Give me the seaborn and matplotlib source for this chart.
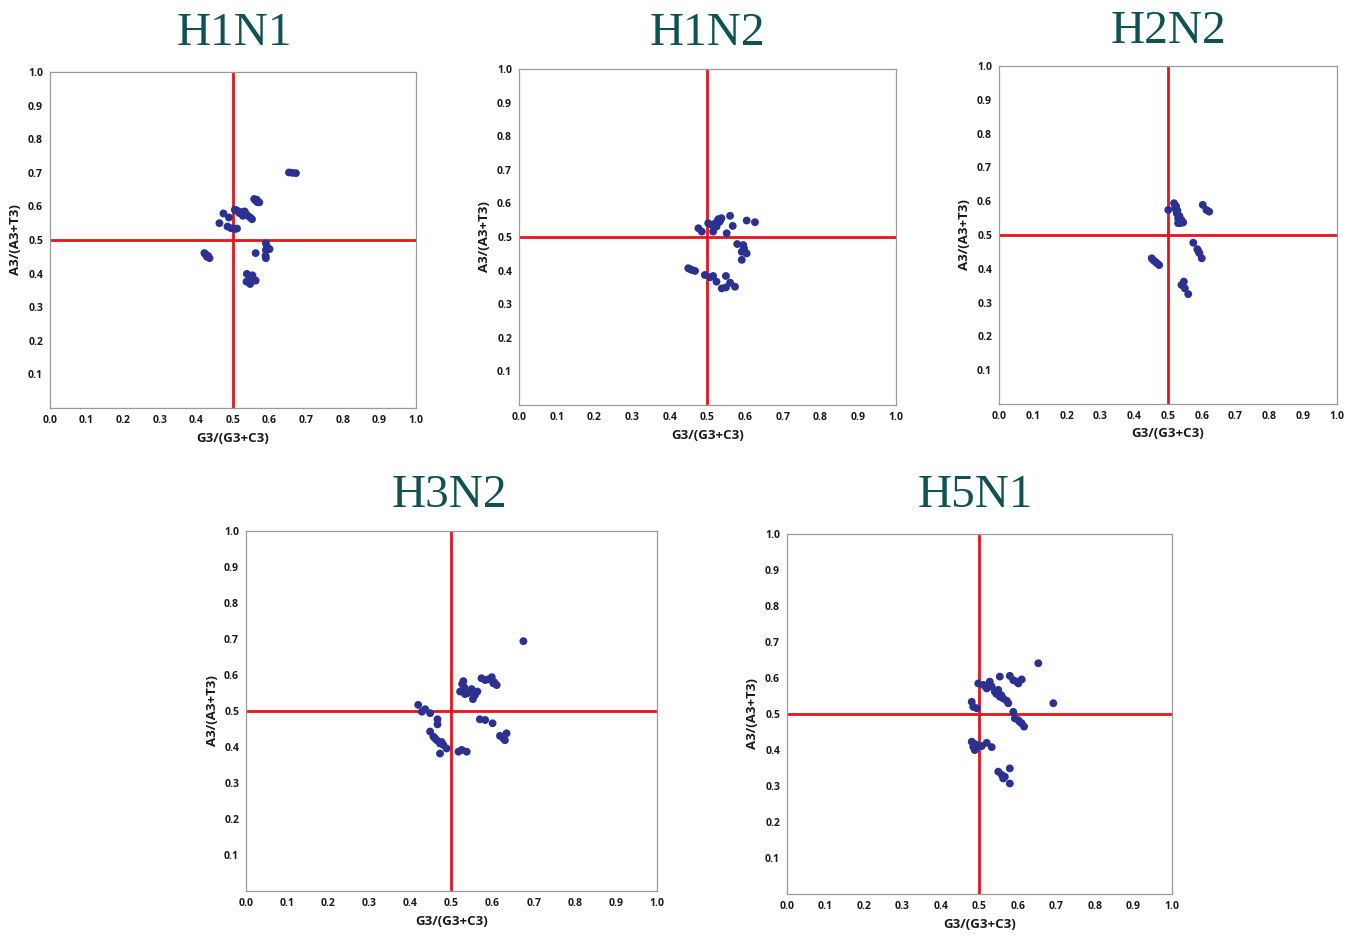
import numpy as np
import matplotlib
matplotlib.use("Agg")
import matplotlib.pyplot as plt
import seaborn as sns
import pandas as pd

# values
h1n1_x = [0.653, 0.662, 0.672, 0.558, 0.562, 0.566, 0.572, 0.565, 0.474, 0.489, 0.463, 0.485,
          0.505, 0.511, 0.495, 0.505, 0.514, 0.523, 0.532, 0.536, 0.541, 0.547, 0.552, 0.527,
          0.590, 0.593, 0.590, 0.600, 0.562, 0.589, 0.590, 0.422, 0.432, 0.436, 0.538, 0.546,
          0.537, 0.547, 0.559, 0.562, 0.510, 0.518, 0.528, 0.425, 0.429, 0.548, 0.553]
h1n1_y = [0.701, 0.700, 0.699, 0.622, 0.618, 0.613, 0.612, 0.620, 0.579, 0.567, 0.550, 0.540,
          0.533, 0.534, 0.535, 0.590, 0.585, 0.583, 0.585, 0.577, 0.572, 0.567, 0.562, 0.572,
          0.490, 0.480, 0.470, 0.473, 0.461, 0.453, 0.446, 0.461, 0.453, 0.446, 0.399, 0.391,
          0.376, 0.369, 0.381, 0.379, 0.588, 0.580, 0.578, 0.458, 0.450, 0.385, 0.395]

h1n2_x = [0.476, 0.485, 0.502, 0.511, 0.529, 0.537, 0.524, 0.515, 0.551, 0.560, 0.567, 0.604,
          0.626, 0.579, 0.595, 0.591, 0.604, 0.591, 0.449, 0.458, 0.467, 0.493, 0.507, 0.515,
          0.524, 0.549, 0.560, 0.573, 0.538, 0.549, 0.532, 0.520, 0.527, 0.534, 0.597, 0.453]
h1n2_y = [0.526, 0.516, 0.541, 0.536, 0.553, 0.556, 0.531, 0.516, 0.511, 0.563, 0.533, 0.549,
          0.544, 0.479, 0.476, 0.456, 0.451, 0.432, 0.407, 0.402, 0.399, 0.387, 0.380, 0.384,
          0.367, 0.384, 0.364, 0.352, 0.347, 0.350, 0.545, 0.540, 0.548, 0.550, 0.466, 0.405]

h2n2_x = [0.501, 0.518, 0.521, 0.526, 0.530, 0.536, 0.540, 0.530, 0.545, 0.524, 0.603, 0.614,
          0.622, 0.575, 0.587, 0.593, 0.600, 0.452, 0.462, 0.474, 0.540, 0.547, 0.550, 0.560,
          0.528, 0.534, 0.538, 0.456, 0.468, 0.590]
h2n2_y = [0.574, 0.594, 0.579, 0.564, 0.549, 0.535, 0.544, 0.535, 0.537, 0.585, 0.589, 0.574,
          0.569, 0.477, 0.458, 0.446, 0.431, 0.431, 0.421, 0.411, 0.352, 0.362, 0.342, 0.325,
          0.572, 0.556, 0.541, 0.426, 0.416, 0.452]

h3n2_x = [0.675, 0.529, 0.521, 0.533, 0.549, 0.557, 0.552, 0.563, 0.526, 0.573, 0.582, 0.590,
          0.598, 0.602, 0.610, 0.419, 0.428, 0.436, 0.448, 0.466, 0.466, 0.569, 0.582, 0.600,
          0.618, 0.626, 0.634, 0.630, 0.448, 0.456, 0.464, 0.472, 0.480, 0.488, 0.472, 0.517,
          0.525, 0.537, 0.531, 0.540, 0.460, 0.476, 0.604]
h3n2_y = [0.694, 0.583, 0.554, 0.547, 0.561, 0.544, 0.533, 0.554, 0.575, 0.591, 0.586, 0.588,
          0.594, 0.577, 0.572, 0.517, 0.498, 0.505, 0.494, 0.477, 0.463, 0.477, 0.475, 0.466,
          0.431, 0.424, 0.438, 0.419, 0.443, 0.429, 0.419, 0.410, 0.406, 0.396, 0.382, 0.387,
          0.392, 0.387, 0.566, 0.550, 0.424, 0.414, 0.580]

h5n1_x = [0.653, 0.692, 0.553, 0.579, 0.588, 0.597, 0.610, 0.601, 0.497, 0.510, 0.519, 0.527,
          0.532, 0.540, 0.549, 0.553, 0.562, 0.571, 0.575, 0.480, 0.484, 0.493, 0.588, 0.592,
          0.601, 0.610, 0.616, 0.480, 0.484, 0.488, 0.493, 0.506, 0.519, 0.532, 0.549, 0.558,
          0.562, 0.566, 0.579, 0.579, 0.515, 0.544, 0.557, 0.486, 0.490, 0.605]
h5n1_y = [0.641, 0.530, 0.604, 0.606, 0.594, 0.590, 0.596, 0.585, 0.585, 0.581, 0.571, 0.590,
          0.576, 0.562, 0.567, 0.548, 0.543, 0.537, 0.530, 0.534, 0.520, 0.516, 0.506, 0.488,
          0.483, 0.474, 0.465, 0.423, 0.409, 0.400, 0.414, 0.411, 0.420, 0.408, 0.340, 0.331,
          0.321, 0.326, 0.349, 0.307, 0.578, 0.556, 0.552, 0.418, 0.405, 0.478]

panels = [("H1N1", h1n1_x, h1n1_y), ("H1N2", h1n2_x, h1n2_y), ("H2N2", h2n2_x, h2n2_y),
          ("H3N2", h3n2_x, h3n2_y), ("H5N1", h5n1_x, h5n1_y)]

ticks_x = [0.0, 0.1, 0.2, 0.3, 0.4, 0.5, 0.6, 0.7, 0.8, 0.9, 1.0]
ticks_y = [0.1, 0.2, 0.3, 0.4, 0.5, 0.6, 0.7, 0.8, 0.9, 1.0]

# axes boxes in figure fractions
boxes = [[0.0369, 0.5664, 0.2703, 0.3571],
         [0.3833, 0.5696, 0.2784, 0.3571],
         [0.7378, 0.5707, 0.2496, 0.3592],
         [0.1817, 0.0531, 0.3035, 0.3826],
         [0.5812, 0.0499, 0.2843, 0.3826]]
# title centre and baseline (figure fractions)
title_pos = [(0.1728, 0.952), (0.5222, 0.952), (0.8627, 0.954), (0.3316, 0.461), (0.7201, 0.461)]

sns.set_style("white")
plt.rcParams['font.family'] = ['Open Sans', 'DejaVu Sans']

fig = plt.figure(figsize=(13.54, 9.41), dpi=100)

for (name, xs, ys), box, tp in zip(panels, boxes, title_pos):
    ax = fig.add_axes(box)
    df = pd.DataFrame({"x": xs, "y": ys})
    ax.axhline(0.5, color="#e8141b", lw=2, zorder=1)
    ax.axvline(0.5, color="#e8141b", lw=2, zorder=1)
    sns.scatterplot(data=df, x="x", y="y", ax=ax, color="#2b3190", s=32,
                    edgecolor="none", zorder=3)
    ax.set_xlim(0, 1)
    ax.set_ylim(0, 1)
    ax.set_xticks(ticks_x)
    ax.set_yticks(ticks_y)
    ax.set_xticklabels(["%.1f" % t for t in ticks_x], fontsize=7.5, fontweight="bold")
    ax.set_yticklabels(["%.1f" % t for t in ticks_y], fontsize=7.5, fontweight="bold")
    ax.tick_params(length=2, color="#999999", pad=3, colors="#1a1a1a")
    for sp in ax.spines.values():
        sp.set_color("#9a9a9a")
        sp.set_linewidth(0.9)
    ax.set_xlabel("G3/(G3+C3)", fontsize=9.5, fontweight="bold", color="#1a1a1a", labelpad=4)
    ax.set_ylabel("A3/(A3+T3)", fontsize=9.5, fontweight="bold", color="#1a1a1a", labelpad=4)
    fig.text(tp[0], tp[1], name, fontsize=34, family="Liberation Serif", color="#0e5254",
             ha="center", va="baseline")

fig.savefig("out.png", dpi=100)
